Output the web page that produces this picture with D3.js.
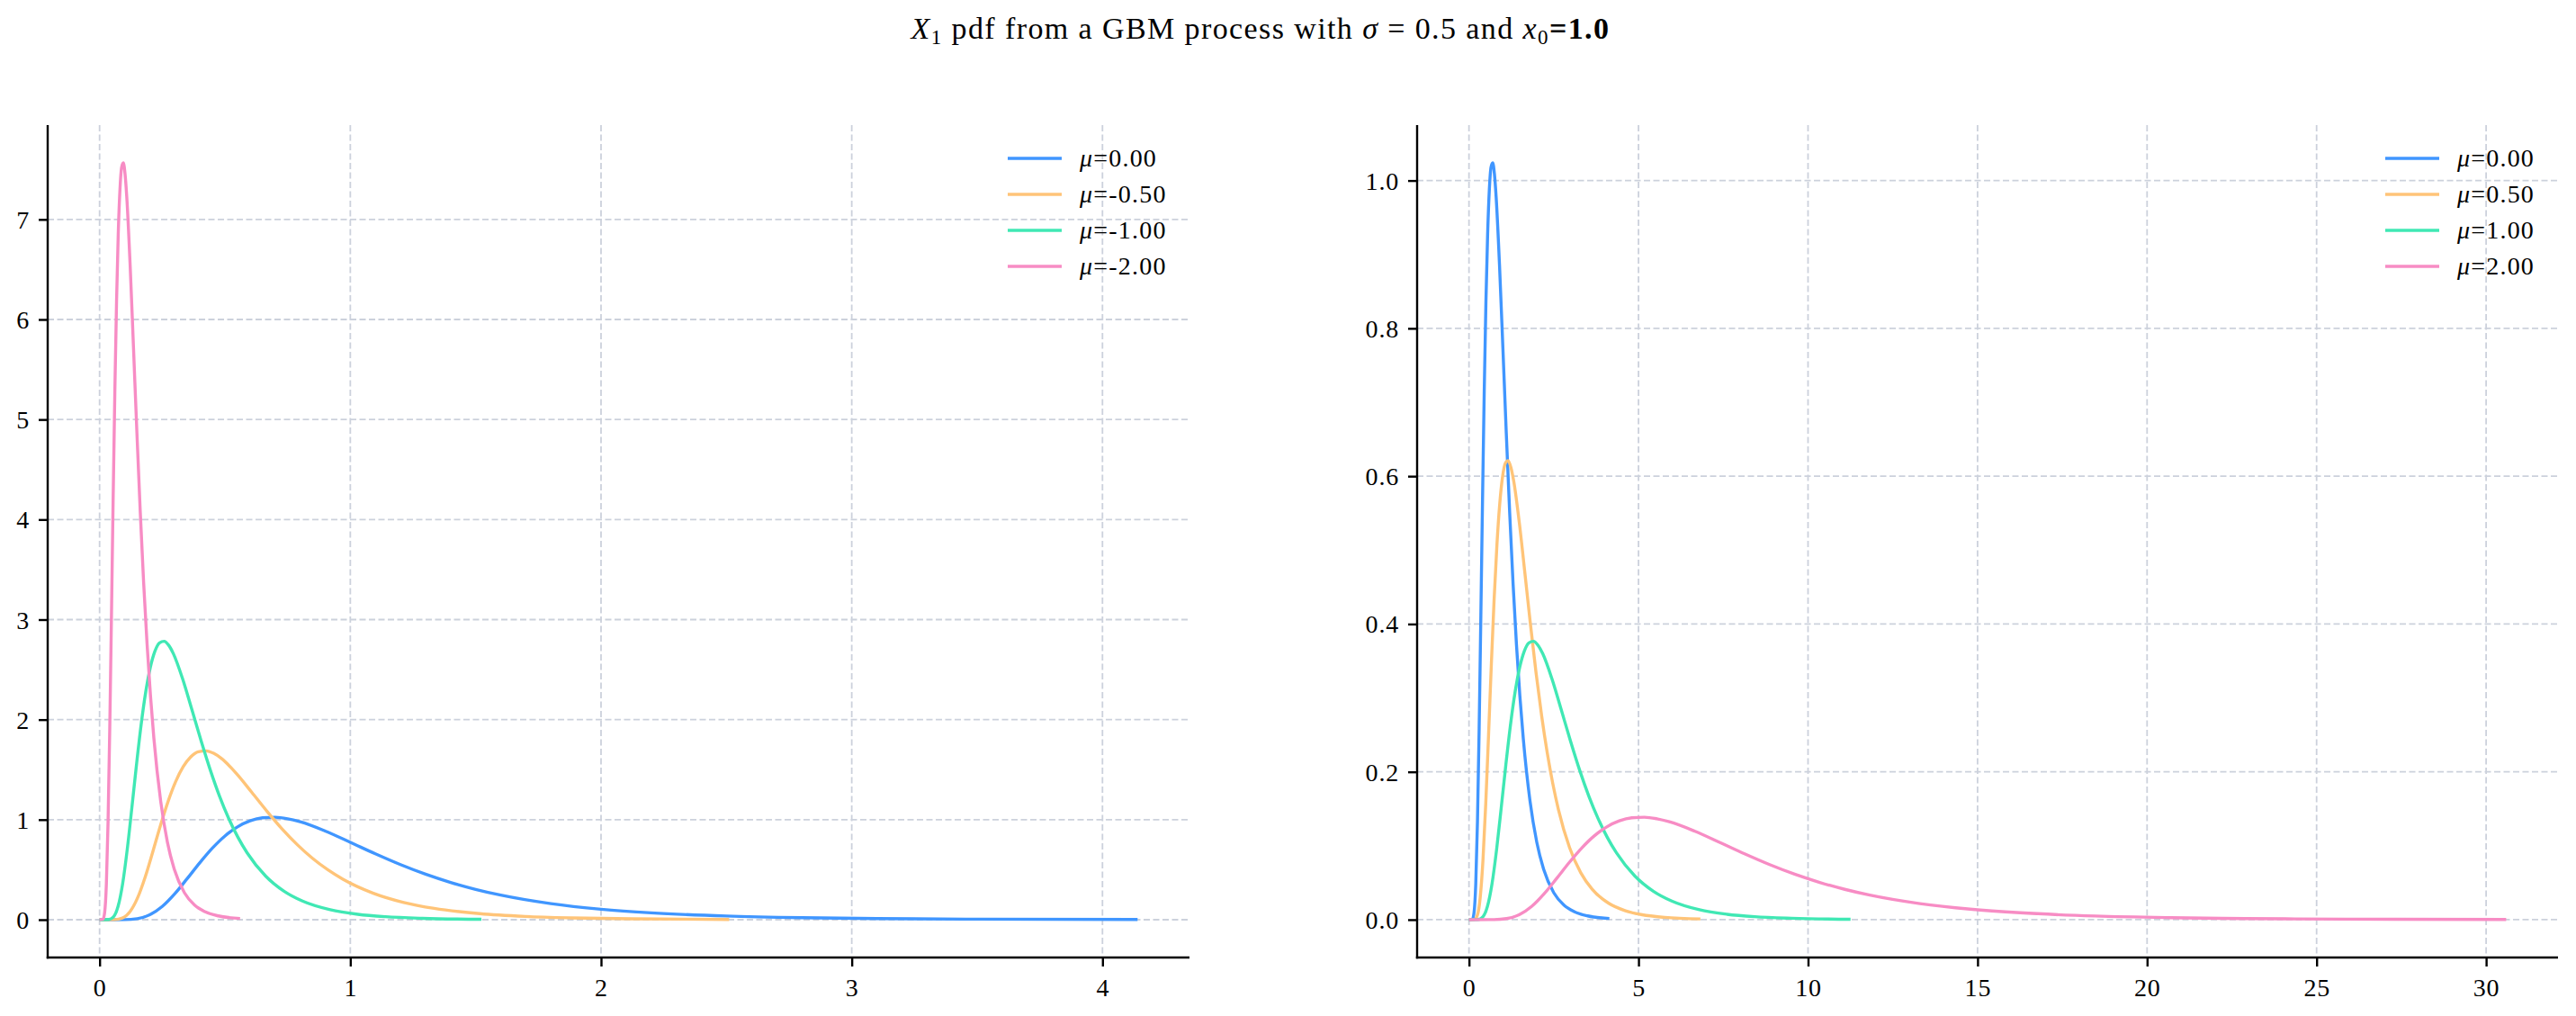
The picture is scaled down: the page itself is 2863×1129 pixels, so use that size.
<!DOCTYPE html>
<html><head><meta charset="utf-8">
<script src="https://cdn.jsdelivr.net/npm/d3@7"></script>
<style>
html,body{margin:0;padding:0;background:#fff;}
svg text{font-family:"Liberation Serif","DejaVu Serif",serif;fill:#000;}
</style></head>
<body><svg id="chart" width="2863" height="1129"></svg>
<script>
// ---------------- DATA ----------------
const titleParts = ["X", "1", " pdf from a GBM process with ", "σ", " = 0.5 and ", "x", "0", "=1.0"];

const leftLabels  = ["μ=0.00", "μ=-0.50", "μ=-1.00", "μ=-2.00"];
const rightLabels = ["μ=0.00", "μ=0.50", "μ=1.00", "μ=2.00"];
const seriesColors = ["#4096ff", "#ffc478", "#40e8b4", "#f78cc4"];

const leftXTicks  = [0, 1, 2, 3, 4];
const leftYTicks  = [0, 1, 2, 3, 4, 5, 6, 7];
const rightXTicks = [0, 5, 10, 15, 20, 25, 30];
const rightYTicks = [0.0, 0.2, 0.4, 0.6, 0.8, 1.0];

// mu = 0.00
const xMu0 = [0, 0.1, 0.15, 0.2, 0.25, 0.3, 0.35, 0.4, 0.45, 0.5, 0.55, 0.6, 0.65, 0.7, 0.75, 0.8, 0.9, 1.0, 1.1, 1.2, 1.3, 1.4, 1.5, 1.6, 1.8, 2.0, 2.2, 2.5, 2.8, 3.1, 3.5, 4.14];
const yMu0 = [0, 0.0006, 0.0100, 0.0486, 0.1325, 0.2592, 0.4122, 0.5701, 0.7156, 0.8368, 0.9276, 0.9874, 1.0181, 1.0238, 1.0089, 0.9783, 0.8859, 0.7733, 0.6583, 0.5505, 0.4547, 0.3723, 0.3030, 0.2456, 0.1605, 0.1046, 0.0684, 0.0365, 0.0198, 0.0110, 0.0051, 0.0016];
// mu = -0.50
const xMuM05 = [0, 0.0607, 0.0910, 0.1213, 0.1516, 0.1820, 0.2123, 0.2426, 0.2729, 0.3033, 0.3336, 0.3639, 0.3942, 0.4246, 0.4549, 0.4852, 0.5459, 0.6065, 0.6672, 0.7278, 0.7885, 0.8491, 0.9098, 0.9704, 1.0918, 1.2131, 1.3344, 1.5163, 1.6983, 1.8802, 2.1229, 2.5110];
const yMuM05 = [0, 0.0010, 0.0164, 0.0801, 0.2185, 0.4273, 0.6796, 0.9399, 1.1798, 1.3796, 1.5293, 1.6279, 1.6785, 1.6880, 1.6634, 1.6130, 1.4606, 1.2750, 1.0854, 0.9076, 0.7497, 0.6138, 0.4996, 0.4049, 0.2646, 0.1725, 0.1128, 0.0602, 0.0326, 0.0181, 0.0084, 0.0027];
// mu = -1.00
const xMuM1 = [0, 0.0368, 0.0552, 0.0736, 0.0920, 0.1104, 0.1288, 0.1472, 0.1655, 0.1839, 0.2023, 0.2207, 0.2391, 0.2575, 0.2759, 0.2943, 0.3311, 0.3679, 0.4047, 0.4415, 0.4782, 0.5150, 0.5518, 0.5886, 0.6622, 0.7358, 0.8093, 0.9197, 1.0301, 1.1404, 1.2876, 1.5230];
const yMuM1 = [0, 0.0017, 0.0271, 0.1321, 0.3602, 0.7046, 1.1205, 1.5497, 1.9452, 2.2747, 2.5215, 2.6840, 2.7675, 2.7830, 2.7425, 2.6593, 2.4081, 2.1020, 1.7894, 1.4964, 1.2360, 1.0120, 0.8236, 0.6676, 0.4363, 0.2843, 0.1859, 0.0992, 0.0538, 0.0298, 0.0139, 0.0044];
// mu = -2.00
const xMuM2 = [0, 0.0135, 0.0203, 0.0271, 0.0338, 0.0406, 0.0474, 0.0541, 0.0609, 0.0677, 0.0744, 0.0812, 0.0880, 0.0947, 0.1015, 0.1083, 0.1218, 0.1353, 0.1489, 0.1624, 0.1759, 0.1895, 0.2030, 0.2165, 0.2436, 0.2707, 0.2977, 0.3383, 0.3789, 0.4195, 0.4737, 0.5603];
const yMuM2 = [0, 0.0045, 0.0736, 0.3591, 0.9791, 1.9153, 3.0458, 4.2125, 5.2876, 6.1831, 6.8541, 7.2959, 7.5227, 7.5649, 7.4548, 7.2287, 6.5460, 5.7139, 4.8642, 4.0676, 3.3598, 2.7509, 2.2389, 1.8147, 1.1859, 0.7729, 0.5054, 0.2697, 0.1463, 0.0809, 0.0378, 0.0120];
// mu = 0.50
const xMu05 = [0, 0.1649, 0.2473, 0.3297, 0.4122, 0.4946, 0.5771, 0.6595, 0.7419, 0.8244, 0.9068, 0.9892, 1.0717, 1.1541, 1.2365, 1.3190, 1.4838, 1.6487, 1.8136, 1.9785, 2.1433, 2.3082, 2.4731, 2.6380, 2.9677, 3.2974, 3.6272, 4.1218, 4.6164, 5.1110, 5.7705, 6.8257];
const yMu05 = [0, 0.0004, 0.0060, 0.0295, 0.0804, 0.1572, 0.2500, 0.3458, 0.4340, 0.5075, 0.5626, 0.5989, 0.6175, 0.6210, 0.6119, 0.5934, 0.5373, 0.4690, 0.3993, 0.3339, 0.2758, 0.2258, 0.1838, 0.1490, 0.0973, 0.0634, 0.0415, 0.0221, 0.0120, 0.0066, 0.0031, 0.0010];
// mu = 1.00
const xMu1 = [0, 0.2718, 0.4077, 0.5437, 0.6796, 0.8155, 0.9514, 1.0873, 1.2232, 1.3591, 1.4950, 1.6310, 1.7669, 1.9028, 2.0387, 2.1746, 2.4465, 2.7183, 2.9901, 3.2619, 3.5338, 3.8056, 4.0774, 4.3492, 4.8929, 5.4366, 5.9802, 6.7957, 7.6112, 8.4267, 9.5140, 11.2537];
const yMu1 = [0, 0.0002, 0.0037, 0.0179, 0.0487, 0.0954, 0.1516, 0.2097, 0.2633, 0.3078, 0.3412, 0.3632, 0.3745, 0.3766, 0.3711, 0.3599, 0.3259, 0.2845, 0.2422, 0.2025, 0.1673, 0.1370, 0.1115, 0.0904, 0.0590, 0.0385, 0.0252, 0.0134, 0.0073, 0.0040, 0.0019, 0.0006];
// mu = 2.00
const xMu2 = [0, 0.7389, 1.1084, 1.4778, 1.8473, 2.2167, 2.5862, 2.9556, 3.3251, 3.6945, 4.0640, 4.4334, 4.8029, 5.1723, 5.5418, 5.9112, 6.6502, 7.3891, 8.1280, 8.8669, 9.6058, 10.3447, 11.0836, 11.8225, 13.3003, 14.7781, 16.2559, 18.4727, 20.6894, 22.9061, 25.8617, 30.5907];
const yMu2 = [0, 0.0001, 0.0014, 0.0066, 0.0179, 0.0351, 0.0558, 0.0772, 0.0969, 0.1133, 0.1255, 0.1336, 0.1378, 0.1386, 0.1365, 0.1324, 0.1199, 0.1047, 0.0891, 0.0745, 0.0615, 0.0504, 0.0410, 0.0332, 0.0217, 0.0142, 0.0093, 0.0049, 0.0027, 0.0015, 0.0007, 0.0002];

// ---------------- DRAWING ----------------
const svg = d3.select("#chart");
const GRID = "#ccd1dc";

// title
const title = svg.append("text")
  .attr("x", 1401).attr("y", 43)
  .attr("text-anchor", "middle")
  .style("font-size", "34px")
  .style("letter-spacing", "1.4px");
title.append("tspan").style("font-style", "italic").text(titleParts[0]);
title.append("tspan").style("font-size", "23px").attr("dy", 6).text(titleParts[1]);
title.append("tspan").attr("dy", -6).text(titleParts[2]);
title.append("tspan").style("font-style", "italic").text(titleParts[3]);
title.append("tspan").text(titleParts[4]);
title.append("tspan").style("font-style", "italic").text(titleParts[5]);
title.append("tspan").style("font-size", "23px").attr("dy", 6).text(titleParts[6]);
title.append("tspan").attr("dy", -6).style("font-weight", "bold").text(titleParts[7]);

function panel(cfg) {
  const {x0, x1, y0, y1, xDom, yDom, xTicks, yTicks, yFmt, series, labels, legendX} = cfg;
  const xs = d3.scaleLinear().domain(xDom).range([x0, x1]);
  const ys = d3.scaleLinear().domain(yDom).range([y1, y0]);
  const g = svg.append("g");

  // grid
  g.append("g").selectAll("line").data(xTicks).join("line")
    .attr("x1", d => xs(d)).attr("x2", d => xs(d))
    .attr("y1", y0).attr("y2", y1)
    .attr("stroke", GRID).attr("stroke-width", 1.8).attr("stroke-dasharray", "7,3.5");
  g.append("g").selectAll("line").data(yTicks).join("line")
    .attr("x1", x0).attr("x2", x1)
    .attr("y1", d => ys(d)).attr("y2", d => ys(d))
    .attr("stroke", GRID).attr("stroke-width", 1.8).attr("stroke-dasharray", "7,3.5");

  // curves
  const line = d3.line().x(d => xs(d[0])).y(d => ys(d[1])).curve(d3.curveMonotoneX);
  series.forEach((s, i) => {
    const pts = s[0].map((v, j) => [v, s[1][j]]);
    g.append("path").datum(pts)
      .attr("d", line).attr("fill", "none")
      .attr("stroke", seriesColors[i]).attr("stroke-width", 3.4)
      .attr("stroke-linejoin", "round");
  });

  // axes
  const xAxis = d3.axisBottom(xs).tickValues(xTicks).tickSize(10).tickPadding(12).tickFormat(d3.format("d"));
  const yAxis = d3.axisLeft(ys).tickValues(yTicks).tickSize(10).tickPadding(10).tickFormat(yFmt);
  const gx = g.append("g").attr("transform", `translate(0,${y1})`).call(xAxis);
  const gy = g.append("g").attr("transform", `translate(${x0},0)`).call(yAxis);
  [gx, gy].forEach(a => {
    a.select(".domain").remove();
    a.selectAll(".tick line").attr("stroke", "#000").attr("stroke-width", 2.4);
    a.selectAll(".tick text").style("font-size", "28px").attr("fill", "#000")
      .style("letter-spacing", "0.8px")
      .style("font-family", '"Liberation Serif","DejaVu Serif",serif');
  });
  gy.selectAll(".tick text").attr("dy", "0.34em");
  gx.selectAll(".tick text").attr("dy", "0.76em");
  // spines
  g.append("line").attr("x1", x0).attr("x2", x0).attr("y1", y0).attr("y2", y1 + 1.2)
    .attr("stroke", "#000").attr("stroke-width", 2.4);
  g.append("line").attr("x1", x0 - 1.2).attr("x2", x1).attr("y1", y1).attr("y2", y1)
    .attr("stroke", "#000").attr("stroke-width", 2.4);

  // legend
  labels.forEach((lab, i) => {
    const cy = 176 + i * 40;
    g.append("line").attr("x1", legendX).attr("x2", legendX + 60)
      .attr("y1", cy).attr("y2", cy)
      .attr("stroke", seriesColors[i]).attr("stroke-width", 3.4);
    const t = g.append("text").attr("x", legendX + 80).attr("y", cy + 9)
      .style("font-size", "28px").style("letter-spacing", "1.2px");
    t.append("tspan").style("font-style", "italic").text(lab.slice(0, 1));
    t.append("tspan").text(lab.slice(1));
  });
}

panel({
  x0: 53, x1: 1322, y0: 139, y1: 1064,
  xDom: [-0.207, 4.347], yDom: [-0.378, 7.943],
  xTicks: leftXTicks, yTicks: leftYTicks, yFmt: d3.format("d"),
  series: [[xMu0, yMu0], [xMuM05, yMuM05], [xMuM1, yMuM1], [xMuM2, yMuM2]],
  labels: leftLabels, legendX: 1120
});
panel({
  x0: 1575, x1: 2843, y0: 139, y1: 1064,
  xDom: [-1.53, 32.12], yDom: [-0.0512, 1.075],
  xTicks: rightXTicks, yTicks: rightYTicks, yFmt: d3.format(".1f"),
  series: [[xMu0, yMu0], [xMu05, yMu05], [xMu1, yMu1], [xMu2, yMu2]],
  labels: rightLabels, legendX: 2651
});
</script></body></html>
